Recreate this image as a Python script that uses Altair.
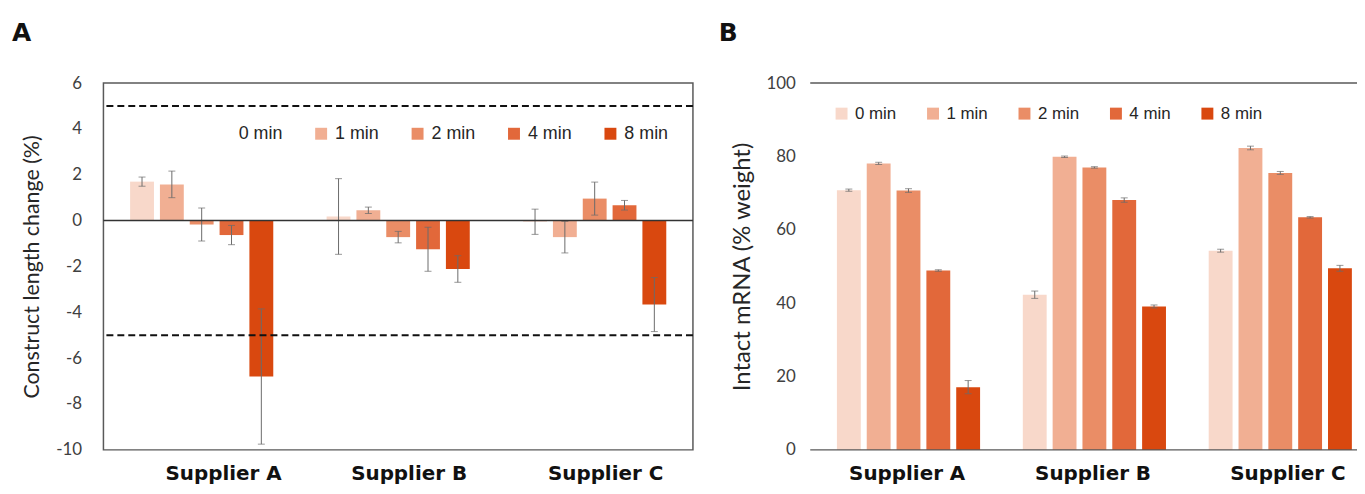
import altair as alt
import pandas as pd

suppliers = ["Supplier A", "Supplier B", "Supplier C"]
times = ["0 min", "1 min", "2 min", "4 min", "8 min"]
colors = ["#F8D8CA", "#F1AF93", "#EA8D66", "#E2683A", "#D9480F"]

# Panel A: construct length change (%), mean and error per supplier x time
len_mean_a = [1.70, 1.58, -0.17, -0.63, -6.80]
len_err_a = [0.20, 0.58, 0.72, 0.42, 2.95]
len_mean_b = [0.18, 0.45, -0.72, -1.25, -2.11]
len_err_b = [1.65, 0.14, 0.25, 0.96, 0.58]
len_mean_c = [-0.05, -0.72, 0.96, 0.67, -3.66]
len_err_c = [0.55, 0.69, 0.72, 0.21, 1.18]

# Panel B: intact mRNA (% weight)
int_mean_a = [70.8, 78.1, 70.7, 48.9, 17.1]
int_err_a = [0.3, 0.3, 0.5, 0.2, 1.8]
int_mean_b = [42.3, 79.9, 77.0, 68.1, 39.1]
int_err_b = [1.0, 0.2, 0.2, 0.6, 0.4]
int_mean_c = [54.3, 82.3, 75.5, 63.4, 49.5]
int_err_c = [0.4, 0.5, 0.4, 0.2, 0.8]

thresholds = [5, -5]


def build(means, errs):
    rows = []
    for s, m_list, e_list in zip(suppliers, means, errs):
        for t, m, e in zip(times, m_list, e_list):
            rows.append({"supplier": s, "time": t, "mean": m, "lo": m - e, "hi": m + e})
    return pd.DataFrame(rows)


df_a = build([len_mean_a, len_mean_b, len_mean_c], [len_err_a, len_err_b, len_err_c])
df_b = build([int_mean_a, int_mean_b, int_mean_c], [int_err_a, int_err_b, int_err_c])
legend_df = pd.DataFrame({"time": times})

FONT = "Lato"
BOLD = "DejaVu Sans"
ERR = "#6b6b6b"


def panel(df, y_domain, y_values, y_title, title_size, x_range, x_pad_outer, x_pad_inner,
          special, special_off, other_off, label_pad_y, title_pad, letter,
          legend_colors, legend_x, legend_y, col_pad, legend_font):
    if x_range is not None:
        x_scale = alt.Scale(paddingInner=0, paddingOuter=0, range=x_range)
    else:
        x_scale = alt.Scale(paddingInner=0, paddingOuter=0)
    x = alt.X("supplier:N", sort=suppliers, scale=x_scale,
              axis=alt.Axis(title=None, domain=False, ticks=False, labelAngle=0,
                            labelFont=BOLD, labelFontWeight="bold", labelFontSize=20,
                            labelColor="#111111", labelPadding=14,
                            labelOffset=alt.condition(f"datum.value == '{special}'",
                                                      alt.value(special_off), alt.value(other_off))))
    xo = alt.XOffset("time:N", sort=times,
                     scale=alt.Scale(paddingInner=x_pad_inner, paddingOuter=x_pad_outer))
    y_scale = alt.Scale(domain=y_domain, nice=False, zero=False)
    bars = alt.Chart(df).mark_bar().encode(
        x=x, xOffset=xo,
        y=alt.Y("mean:Q", scale=y_scale,
                axis=alt.Axis(values=y_values, grid=False, domain=False, ticks=False,
                              title=y_title, titleFont=FONT, titleFontSize=title_size,
                              titleFontWeight="normal", titleColor="#262626",
                              titlePadding=title_pad,
                              labelFont=FONT, labelFontSize=17, labelColor="#404040",
                              labelPadding=label_pad_y, labelExpr="'' + datum.value")),
        y2=alt.datum(0),
        color=alt.Color("time:N", sort=times, scale=alt.Scale(domain=times, range=colors), legend=None),
    )
    err = alt.Chart(df).mark_rule(color=ERR, strokeWidth=1).encode(
        x=x, xOffset=xo, y="lo:Q", y2="hi:Q")
    cap_lo = alt.Chart(df).mark_tick(color=ERR, size=7, thickness=1, orient="horizontal").encode(
        x=x, xOffset=xo, y="lo:Q")
    cap_hi = alt.Chart(df).mark_tick(color=ERR, size=7, thickness=1, orient="horizontal").encode(
        x=x, xOffset=xo, y="hi:Q")
    leg = alt.Chart(legend_df).mark_square(opacity=0, size=1).encode(
        color=alt.Color("time:N", sort=times,
                        scale=alt.Scale(domain=times, range=legend_colors),
                        legend=alt.Legend(orient="none", legendX=legend_x, legendY=legend_y,
                                          direction="horizontal", columns=5, title=None,
                                          symbolType="square", symbolSize=144, symbolOpacity=1,
                                          symbolStrokeWidth=0, labelFont="Liberation Sans",
                                          labelFontSize=legend_font, labelColor="#262626",
                                          labelOffset=5, columnPadding=col_pad, padding=0)))
    letter_mark = alt.Chart(legend_df.head(1)).mark_text(
        text=letter, font=BOLD, fontSize=25, fontWeight="bold", color="#111111",
        align="left", baseline="middle").encode(x=alt.value(-92), y=alt.value(-50))
    return bars, err, cap_lo, cap_hi, leg, letter_mark


# ---- Panel A ----
bA, eA, loA, hiA, legA, letA = panel(
    df_a, [-10, 6], list(range(-10, 7, 2)), "Construct length change (%)", 21.5,
    None, 0.894, 0.2, "Supplier A", 22, 11, 22, 12, "A",
    ["#ffffff"] + colors[1:], 113, 42, 29, 18)
zero_a = alt.Chart(pd.DataFrame({"y": [0]})).mark_rule(color="#333333", strokeWidth=1.5).encode(y=alt.Y("y:Q"))
dash_a = alt.Chart(pd.DataFrame({"y": thresholds})).mark_rule(
    color="#111111", strokeWidth=2, strokeDash=[7, 4]).encode(y=alt.Y("y:Q"))
panel_a = alt.layer(bA, eA, loA, hiA, zero_a, dash_a, legA, letA).resolve_scale(
    color="independent").properties(
    width=593, height=369,
    view=alt.ViewBackground(stroke="#595959", strokeWidth=1.5))

# ---- Panel B ----
bB, eB, loB, hiB, legB, letB = panel(
    df_b, [0, 100], list(range(0, 101, 20)), "Intact mRNA (% weight)", 24,
    [0, 561], 0.863, 0.21, "Supplier C", 13, 4, 15, 12, "B",
    colors, 23, 22, 28, 17)
lines_b = alt.Chart(pd.DataFrame({"y": [0, 100]})).mark_rule(color="#595959", strokeWidth=1.5).encode(
    y=alt.Y("y:Q"))
panel_b = alt.layer(bB, eB, loB, hiB, lines_b, legB, letB).resolve_scale(
    color="independent").properties(
    width=553, height=369,
    view=alt.ViewBackground(stroke="transparent"))

chart = alt.hconcat(panel_a, panel_b, spacing=23).properties(
    autosize=alt.AutoSizeParams(type="none"),
    padding={"left": 96, "top": 73, "right": 1261, "bottom": 400},
    background="white")

chart.save("out.html", embed_options={"renderer": "svg", "actions": False})
